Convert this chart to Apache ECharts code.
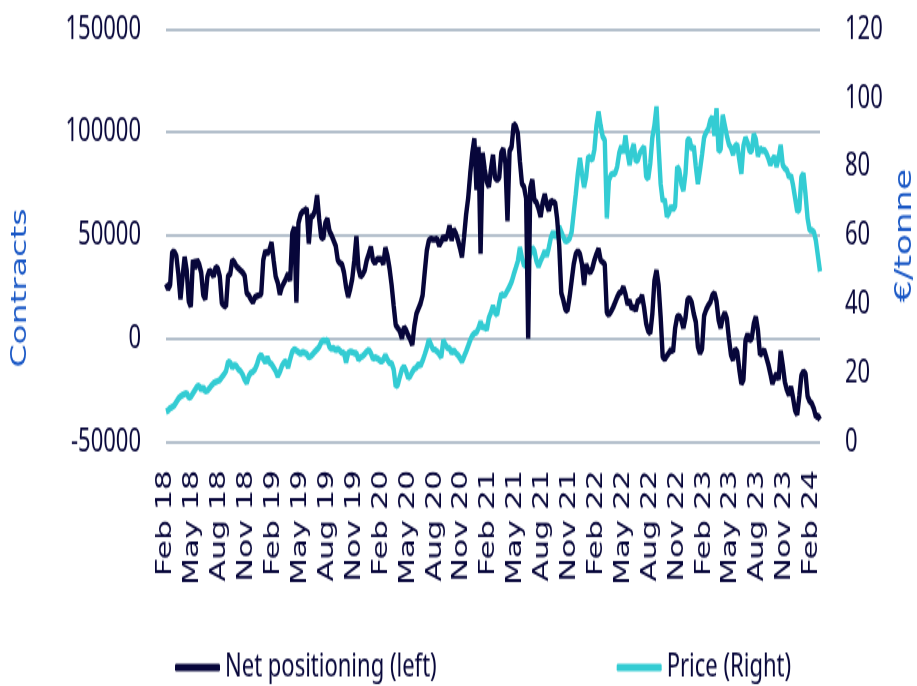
<!DOCTYPE html>
<html>
<head>
<meta charset="utf-8">
<script src="https://cdn.jsdelivr.net/npm/echarts@6/dist/echarts.min.js"></script>
<style>
  html { margin: 0; padding: 0; overflow: hidden; }
  body { margin: 0; padding: 0; background: #fff; width: 917px; height: 686px; }
  /* the reference is stretched vertically, so the chart is drawn flatter and scaled */
  #chart { width: 917px; height: 457px; transform: scaleY(1.5); transform-origin: 0 0; }
</style>
</head>
<body>
<div id="chart"></div>
<script>
// weekly net positioning (contracts), Feb 2018 -> Mar 2024
const netPositioning = [
  26600, 24000, 26000, 42000, 42000, 40000, 31000, 19000, 30000, 39500,
  33000, 18000, 15500, 38000, 34000, 38000, 36000, 32000, 21000, 19000,
  30000, 33000, 32000, 30000, 34500, 34000, 30000, 17000, 16000, 15500,
  30500, 31000, 38000, 37000, 35000, 34000, 33000, 32000, 30500, 22000,
  21000, 19000, 17500, 20000, 20500, 21000, 21500, 38000, 42500, 41000,
  43000, 46500, 38000, 30000, 27000, 21500, 25000, 27000, 29000, 31500,
  28000, 51000, 54000, 17500, 56000, 60000, 61500, 62000, 63000, 46000,
  59000, 59500, 62000, 69500, 58000, 49000, 48500, 56000, 58000, 52000,
  50000, 47500, 45000, 38000, 36500, 36000, 32000, 25000, 20200, 24000,
  29000, 38000, 49500, 34000, 30000, 31000, 33000, 38000, 41000, 44400,
  38000, 36500, 38500, 38500, 38500, 36000, 44000, 40000, 34000, 26000,
  16000, 6500, 5000, 3500, 0, 5500, 4000, 1500, -500, -3200,
  6000, 12000, 14500, 17000, 21000, 32000, 42500, 47500, 48400, 48000,
  48000, 48400, 45000, 47000, 49500, 48000, 50000, 54800, 47500, 53000,
  51000, 48000, 44000, 39500, 49000, 60000, 68000, 80000, 90000, 97000,
  72000, 93000, 41000, 90000, 82000, 76000, 73500, 82000, 89000, 78000,
  77000, 78000, 90000, 92000, 85000, 57000, 91000, 93000, 104000, 103000,
  99500, 86000, 75000, 73500, 68000, 0, 73000, 77000, 67000, 66000,
  63000, 59000, 66000, 70000, 65000, 62000, 67000, 66000, 66000, 58000,
  45000, 22000, 18500, 14000, 13500, 20000, 28000, 36000, 41000, 42500,
  41000, 36000, 26000, 36000, 33000, 32000, 34000, 38000, 41000, 43500,
  38000, 37000, 36000, 12500, 11500, 13000, 15000, 17500, 20000, 22000,
  22500, 25000, 21500, 16500, 18500, 14500, 15500, 13500, 18500, 18000,
  21000, 15000, 7300, 3500, 2500, 12000, 28000, 33000, 26000, 10500,
  -9000, -10000, -8500, -7000, -5500, -6500, 5000, 10500, 11000, 9000,
  5000, 10000, 19000, 19500, 17500, 12000, 8000, -4000, -7300, -5000,
  11000, 14000, 16000, 17500, 21000, 22000, 18000, 9000, 5000, 10000,
  12500, 9500, 0, -8000, -10500, -5000, -6500, -15000, -22000, -20000,
  -1000, 2000, -1000, 0, 7000, 10500, 4000, -8000, -7000, -5500,
  -9000, -12500, -17000, -22000, -19000, -17000, -20000, -6000, -13000, -21000,
  -25000, -27400, -23500, -29000, -35000, -37000, -28000, -18000, -16000, -17000,
  -28000, -30500, -31500, -34000, -38000, -37500, -39500
];

// weekly price, EUR/tonne
const price = [
  8.7, 9.0, 9.7, 10.0, 10.5, 11.5, 12.5, 13.1, 13.5, 13.8,
  14.1, 12.8, 13.0, 14.0, 15.0, 16.0, 16.2, 15.0, 15.8, 14.6,
  14.8, 15.5, 16.3, 17.0, 17.3, 17.6, 17.9, 18.7, 19.5, 20.5,
  23.2, 23.0, 21.5, 22.3, 22.0, 21.0, 20.5, 19.5, 18.0, 17.0,
  19.0, 20.0, 20.3, 21.0, 22.5, 24.5, 25.2, 24.0, 23.0, 24.5,
  23.0, 22.5, 21.5, 20.5, 19.0, 20.2, 22.0, 23.0, 23.3, 21.5,
  24.0, 26.2, 26.8, 26.5, 26.0, 25.5, 26.0, 25.8, 25.5, 24.5,
  24.8, 25.5, 26.2, 26.8, 27.5, 28.8, 29.5, 29.2, 29.6, 27.5,
  27.0, 27.2, 26.5, 27.0, 26.5, 25.7, 26.0, 23.0, 25.7, 26.2,
  26.0, 25.7, 25.7, 23.8, 24.5, 24.8, 25.5, 26.2, 26.7, 25.7,
  24.0, 24.5, 24.2, 23.8, 23.2, 23.8, 25.2, 23.8, 22.8, 22.8,
  21.0, 16.0, 16.5, 18.9, 21.0, 21.8, 20.5, 18.5, 19.0, 20.2,
  21.2, 21.5, 22.5, 22.0, 23.5, 25.3, 27.2, 29.6, 28.2, 26.8,
  26.7, 26.2, 25.5, 24.5, 29.5, 28.2, 27.2, 27.2, 25.7, 26.6,
  25.8, 25.2, 24.3, 23.3, 24.7, 26.2, 27.8, 29.5, 30.8, 31.5,
  31.7, 33.0, 34.8, 33.0, 33.7, 32.5, 36.0, 37.5, 39.5, 37.5,
  36.9, 40.3, 43.0, 42.5, 42.8, 44.0, 45.1, 46.5, 48.6, 50.5,
  52.5, 56.5, 53.5, 51.2, 51.5, 52.5, 54.5, 56.5, 55.5, 52.5,
  51.0, 52.5, 53.8, 55.5, 54.0, 56.5, 59.5, 61.0, 59.5, 60.5,
  62.5, 61.0, 59.5, 58.2, 58.5, 59.0, 61.0, 66.5, 72.0, 78.0,
  82.5, 78.0, 74.0, 77.0, 83.0, 82.5, 82.0, 85.0, 92.0, 96.0,
  92.0, 88.7, 87.8, 65.0, 76.0, 77.6, 78.0, 78.0, 80.0, 84.0,
  86.0, 84.0, 89.0, 84.0, 80.5, 84.5, 86.5, 81.5, 82.0, 84.0,
  85.0, 85.8, 77.1, 76.5, 81.0, 88.5, 92.0, 97.5, 86.0, 75.0,
  70.0, 70.5, 65.5, 66.5, 68.5, 67.5, 68.5, 80.0, 79.0, 75.0,
  73.0, 78.0, 87.8, 88.0, 85.0, 86.0, 80.0, 75.0, 79.0, 83.5,
  88.5, 90.0, 91.0, 93.5, 94.5, 89.0, 97.0, 84.5, 85.0, 95.0,
  92.0, 89.0, 86.5, 85.5, 83.5, 86.0, 86.5, 82.0, 78.0, 86.0,
  88.5, 87.0, 84.5, 84.5, 89.5, 88.0, 83.0, 85.5, 84.5, 85.0,
  84.0, 82.5, 80.5, 82.0, 83.0, 80.0, 82.5, 86.3, 80.5, 79.5,
  79.0, 77.0, 77.5, 74.5, 70.8, 67.0, 67.5, 77.0, 78.0, 72.0,
  65.0, 61.5, 61.5, 61.0, 58.5, 54.0, 49.5
];

// one label every 13 weeks
const tickLabels = [
  'Feb 18', 'May 18', 'Aug 18', 'Nov 18',
  'Feb 19', 'May 19', 'Aug 19', 'Nov 19',
  'Feb 20', 'May 20', 'Aug 20', 'Nov 20',
  'Feb 21', 'May 21', 'Aug 21', 'Nov 21',
  'Feb 22', 'May 22', 'Aug 22', 'Nov 22',
  'Feb 23', 'May 23', 'Aug 23', 'Nov 23',
  'Feb 24'
];
const labelStep = 13;

const startDay = Date.UTC(2018, 1, 6);
const weeks = netPositioning.map((_, i) =>
  new Date(startDay + i * 7 * 86400000).toISOString().slice(0, 10));
const labelOfWeek = {};
tickLabels.forEach((t, k) => { labelOfWeek[weeks[k * labelStep]] = t; });

const navy = '#07063a';
const cyan = '#33ccd3';
const blue = '#1a58c6';

const chart = echarts.init(document.getElementById('chart'));

const option = {
  animation: false,
  backgroundColor: '#fff',
  grid: { left: 166, right: 97, top: 19.5, bottom: 162.7 },
  legend: {
    data: ['Net positioning (left)', 'Price (Right)'],
    left: 175,
    top: 434,
    padding: 0,
    itemGap: 180,
    itemWidth: 45,
    itemHeight: 5,
    itemTextGap: 3,
    icon: 'roundRect',
    textStyle: { fontFamily: 'Noto Sans', fontSize: 22, color: navy }
  },
  xAxis: {
    type: 'category',
    data: weeks,
    boundaryGap: false,
    axisLine: { show: false },
    axisTick: { show: false },
    splitLine: { show: false },
    axisLabel: {
      rotate: 90,
      margin: 19,
      interval: (i) => i % labelStep === 0,
      formatter: (v) => labelOfWeek[v] || '',
      fontFamily: 'DejaVu Sans',
      fontSize: 21,
      color: navy
    }
  },
  yAxis: [
    {
      type: 'value',
      min: -50000,
      max: 150000,
      interval: 50000,
      axisLine: { show: false },
      axisTick: { show: false },
      splitLine: { lineStyle: { color: '#b4c0cc', width: 2 } },
      axisLabel: { margin: 25, formatter: (v) => String(v), fontFamily: 'Noto Sans', fontSize: 22, color: navy }
    },
    {
      type: 'value',
      min: 0,
      max: 120,
      interval: 20,
      axisLine: { show: false },
      axisTick: { show: false },
      splitLine: { show: false },
      axisLabel: { margin: 25, fontFamily: 'Noto Sans', fontSize: 22, color: navy }
    }
  ],
  graphic: [
    {
      type: 'text', x: 20, y: 192, rotation: Math.PI / 2,
      style: { text: 'Contracts', fill: blue, font: '22px "DejaVu Sans"', align: 'center', verticalAlign: 'middle' }
    },
    {
      type: 'text', x: 905, y: 157, rotation: Math.PI / 2,
      style: { text: '€/tonne', fill: blue, font: '23px "DejaVu Sans"', align: 'center', verticalAlign: 'middle' }
    }
  ],
  series: [
    {
      name: 'Price (Right)',
      type: 'line',
      yAxisIndex: 1,
      data: price,
      symbol: 'none',
      z: 2,
      itemStyle: { color: cyan },
      lineStyle: { color: cyan, width: 4.4 }
    },
    {
      name: 'Net positioning (left)',
      type: 'line',
      yAxisIndex: 0,
      data: netPositioning,
      symbol: 'none',
      z: 3,
      itemStyle: { color: navy },
      lineStyle: { color: navy, width: 4.4 }
    }
  ]
};

chart.setOption(option);
</script>
</body>
</html>
